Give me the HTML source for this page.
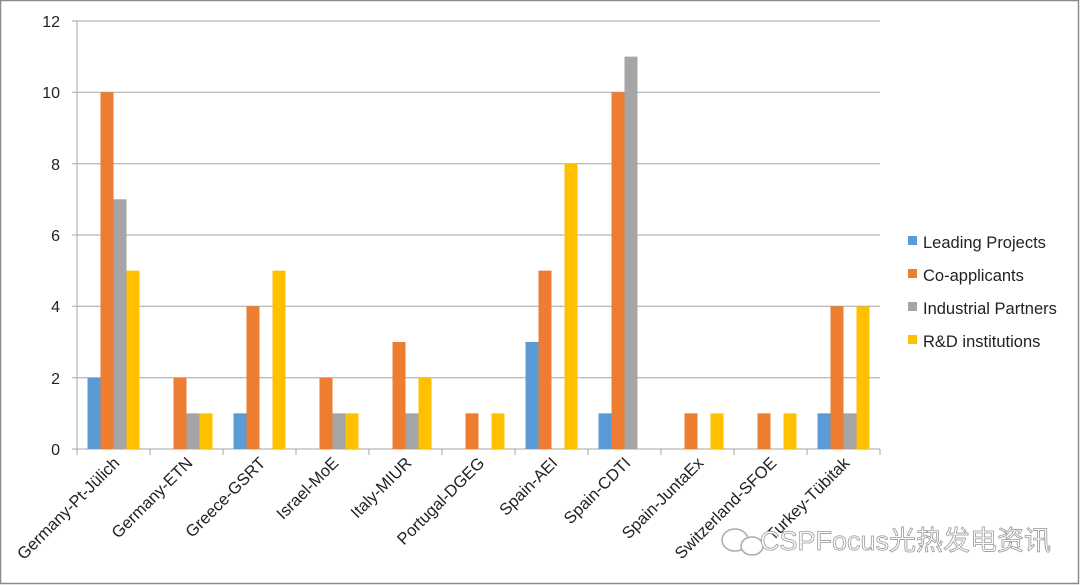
<!DOCTYPE html>
<html><head><meta charset="utf-8"><style>
html,body{margin:0;padding:0;background:#fff;}
svg{display:block;font-family:"Liberation Sans","Noto Sans CJK SC",sans-serif;}
</style></head><body>
<svg width="1080" height="585" viewBox="0 0 1080 585" xmlns="http://www.w3.org/2000/svg">
<rect x="0.5" y="0.5" width="1078" height="583" fill="#fff" stroke="#8c8c8c" stroke-width="1.5"/>
<g stroke="#a6a6a6" stroke-width="1">
<line x1="72" y1="21" x2="880" y2="21"/>
<line x1="72" y1="92.3" x2="880" y2="92.3"/>
<line x1="72" y1="163.7" x2="880" y2="163.7"/>
<line x1="72" y1="235" x2="880" y2="235"/>
<line x1="72" y1="306.3" x2="880" y2="306.3"/>
<line x1="72" y1="377.7" x2="880" y2="377.7"/>
<line x1="72" y1="449" x2="880" y2="449"/>
<line x1="77" y1="21" x2="77" y2="449"/>
</g>
<g font-size="16" fill="#222" text-anchor="end">
<text x="60" y="27">12</text><text x="60" y="98">10</text><text x="60" y="170">8</text><text x="60" y="241">6</text><text x="60" y="312">4</text><text x="60" y="384">2</text><text x="60" y="455">0</text>
</g>
<g id="bars"></g>
<g id="ticks" stroke="#a6a6a6"></g>
<g id="labels" font-size="16.5" fill="#222" text-anchor="end"></g>
<g font-size="16.5" fill="#222">
<rect x="908" y="236" width="9" height="9" fill="#5b9bd5"/><text x="923" y="248">Leading Projects</text>
<rect x="908" y="269" width="9" height="9" fill="#ed7d31"/><text x="923" y="281">Co-applicants</text>
<rect x="908" y="302" width="9" height="9" fill="#a5a5a5"/><text x="923" y="314">Industrial Partners</text>
<rect x="908" y="335" width="9" height="9" fill="#ffc000"/><text x="923" y="347">R&amp;D institutions</text>
</g>
<g stroke="#aaa" stroke-width="1.5" fill="#fff"><ellipse cx="735" cy="540" rx="13" ry="11"/><ellipse cx="752" cy="546" rx="11" ry="9"/></g>
<text x="760" y="550" font-size="27" fill="#fff" stroke="#999" stroke-width="0.8">CSPFocus光热发电资讯</text>
<script>
var cats=["Germany-Pt-Jülich","Germany-ETN","Greece-GSRT","Israel-MoE","Italy-MIUR","Portugal-DGEG","Spain-AEI","Spain-CDTI","Spain-JuntaEx","Switzerland-SFOE","Turkey-Tübitak"];
var d=[[2,10,7,5],[0,2,1,1],[1,4,0,5],[0,2,1,1],[0,3,1,2],[0,1,0,1],[3,5,0,8],[1,10,11,0],[0,1,0,1],[0,1,0,1],[1,4,1,4]];
var col=["#5b9bd5","#ed7d31","#a5a5a5","#ffc000"];
var ns="http://www.w3.org/2000/svg",x0=77,cw=73.0,u=35.67,base=449;
var B=document.getElementById("bars"),T=document.getElementById("ticks"),L=document.getElementById("labels");
function el(t,a,p){var e=document.createElementNS(ns,t);for(var k in a)e.setAttribute(k,a[k]);p.appendChild(e);return e;}
for(var i=0;i<11;i++){
 var s=x0+i*cw;
 for(var j=0;j<4;j++){var v=d[i][j];if(!v)continue;el("rect",{x:s+10.5+j*13,y:base-v*u,width:13,height:v*u,fill:col[j]},B);}
 el("line",{x1:s+cw,y1:449,x2:s+cw,y2:455},T);
 var t=el("text",{x:0,y:0,transform:"translate("+(s+cw/2+7)+",464) rotate(-45)"},L);t.textContent=cats[i];
}
el("line",{x1:x0,y1:449,x2:x0,y2:455},T);
</script>
</svg>
</body></html>
